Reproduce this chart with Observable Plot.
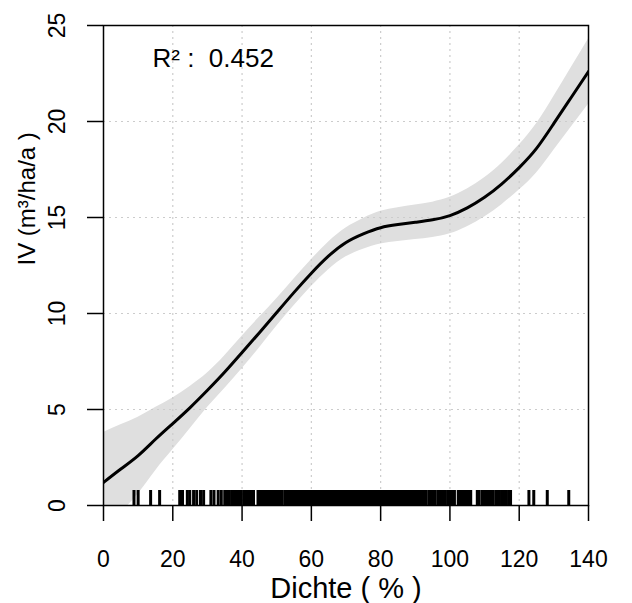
<!DOCTYPE html>
<html><head><meta charset="utf-8">
<script src="https://cdn.jsdelivr.net/npm/d3@7"></script>
<script src="https://cdn.jsdelivr.net/npm/@observablehq/plot@0.6"></script>
<style>
html,body{margin:0;padding:0;background:#fff;}
svg text{white-space:pre;}
</style></head><body><div id="chart"></div>
<script>
// Smooth fit of IV vs Dichte, with confidence band
const dichte = [0,5,10,15,20,25,30,35,40,45,50,55,60,65,70,75,80,85,90,95,100,105,110,115,120,125,130,135,140];
const fit    = [1.2,1.9,2.6,3.45,4.27,5.1,6.0,6.95,7.97,9.0,10.05,11.1,12.1,13.0,13.7,14.15,14.47,14.63,14.75,14.88,15.1,15.5,16.05,16.75,17.6,18.6,19.9,21.25,22.6];
const upper  = [3.8,4.2,4.6,5.1,5.6,6.2,6.9,7.8,8.82,9.8,10.77,11.8,12.8,13.72,14.45,14.95,15.32,15.51,15.65,15.8,16.05,16.48,17.07,17.83,18.77,19.88,21.3,22.8,24.3];
const lower  = [-1.4,-0.4,0.6,1.8,2.9,4.0,5.1,6.1,7.12,8.2,9.33,10.4,11.4,12.28,12.95,13.35,13.62,13.75,13.85,13.96,14.15,14.52,15.03,15.67,16.43,17.32,18.5,19.7,20.9];
// Rug of observed Dichte values
const rugX = [
8.8,10.0,13.6,16.2,
22.0,22.8,24.2,24.9,26.0,26.9,28.0,28.9,
31.0,31.9,33.1,34.0,35.0,35.6,36.3,37.0,37.5,38.0,38.5,38.9,39.4,39.8,
40.6,41.0,41.5,41.9,42.4,42.8,43.3,
44.6,45.0,45.4,45.9,46.3,46.8,47.1,47.6,48.0,48.5,48.9,49.3,49.8,50.2,50.7,51.1,51.6,
52.4,52.8,53.3,53.7,54.2,54.5,55.0,55.4,55.9,56.3,56.8,57.1,57.6,58.0,58.4,58.9,59.3,59.7,
60.1,60.6,61.0,61.4,61.9,62.3,62.7,63.2,63.6,64.0,64.5,64.9,65.3,65.8,66.2,66.6,67.1,67.5,67.9,68.4,68.8,69.2,69.7,
70.1,70.5,71.0,71.4,71.8,72.3,72.7,73.1,73.6,74.0,74.4,74.9,75.3,75.7,76.2,76.6,77.0,77.5,77.9,78.3,78.8,79.2,79.6,
80.1,80.5,80.9,81.4,81.8,82.2,82.7,83.1,83.5,84.0,84.4,84.8,85.3,85.7,86.1,86.6,87.0,87.4,87.9,88.3,88.7,89.2,89.6,
90.0,90.5,90.9,91.3,91.8,92.6,93.1,93.9,94.4,94.8,95.3,95.7,96.5,97.0,97.4,97.9,98.3,98.7,99.5,
100.0,100.4,100.9,101.3,102.4,102.8,103.3,103.7,104.1,104.6,105.0,105.5,106.0,
107.9,108.3,109.2,109.7,110.5,111.0,111.4,112.0,112.5,113.3,113.8,114.3,115.0,115.6,116.3,117.0,117.5,
122.8,124.2,128.1,134.3
];
const xTicks = [0,20,40,60,80,100,120,140];
const yTicks = [0,5,10,15,20,25];
const gridX = [20,40,60,80,100,120];
const gridY = [5,10,15,20];
const r2Label = "R² :  0.452";
const xTitle = "Dichte ( % )";
const yTitle = "IV (m³/ha/a )";

const curve = dichte.map((x, i) => ({x, fit: fit[i], lo: lower[i], hi: upper[i]}));

const W = 632, H = 603, ML = 103, MR = 44, MT = 25, MB = 98;
const innerH = H - MT - MB;

const chart = Plot.plot({
  width: W, height: H,
  marginLeft: ML, marginRight: MR, marginTop: MT, marginBottom: MB,
  x: {domain: [0, 140]},
  y: {domain: [0, 25]},
  style: {fontFamily: "'Liberation Sans', Arial, sans-serif", background: "white", color: "black"},
  marks: [
    Plot.areaY(curve, {x: "x", y1: "lo", y2: "hi", fill: "#dfdfdf", curve: "natural", clip: true}),
    Plot.ruleX(gridX, {stroke: "#cccccc", strokeDasharray: "2,4", strokeWidth: 1.2}),
    Plot.ruleY(gridY, {stroke: "#cccccc", strokeDasharray: "2,4", strokeWidth: 1.2}),
    Plot.line(curve, {x: "x", y: "fit", stroke: "black", strokeWidth: 3, curve: "natural", clip: true}),
    Plot.ruleX(rugX, {x: d => d, insetTop: innerH - 15, stroke: "black", strokeWidth: 3}),
    Plot.frame({stroke: "black", strokeWidth: 1.5}),
    Plot.axisX(xTicks, {tickSize: 16, tickPadding: 29, fontSize: 23, strokeWidth: 1.5, label: null}),
    Plot.axisY(yTicks, {tickSize: 16, tickPadding: 23, tickRotate: -90, fontSize: 23, strokeWidth: 1.5, label: null}),
    Plot.text([xTitle], {text: d => d, frameAnchor: "bottom", dy: 83, fontSize: 29, lineAnchor: "middle"}),
    Plot.text([yTitle], {text: d => d, frameAnchor: "left", dx: -76, rotate: -90, fontSize: 24, lineAnchor: "middle"}),
    Plot.text([r2Label], {text: d => d, frameAnchor: "top-left", dx: 49, dy: 33, textAnchor: "start", lineAnchor: "middle", fontSize: 26})
  ]
});
document.getElementById("chart").appendChild(chart);
</script>
</body></html>
